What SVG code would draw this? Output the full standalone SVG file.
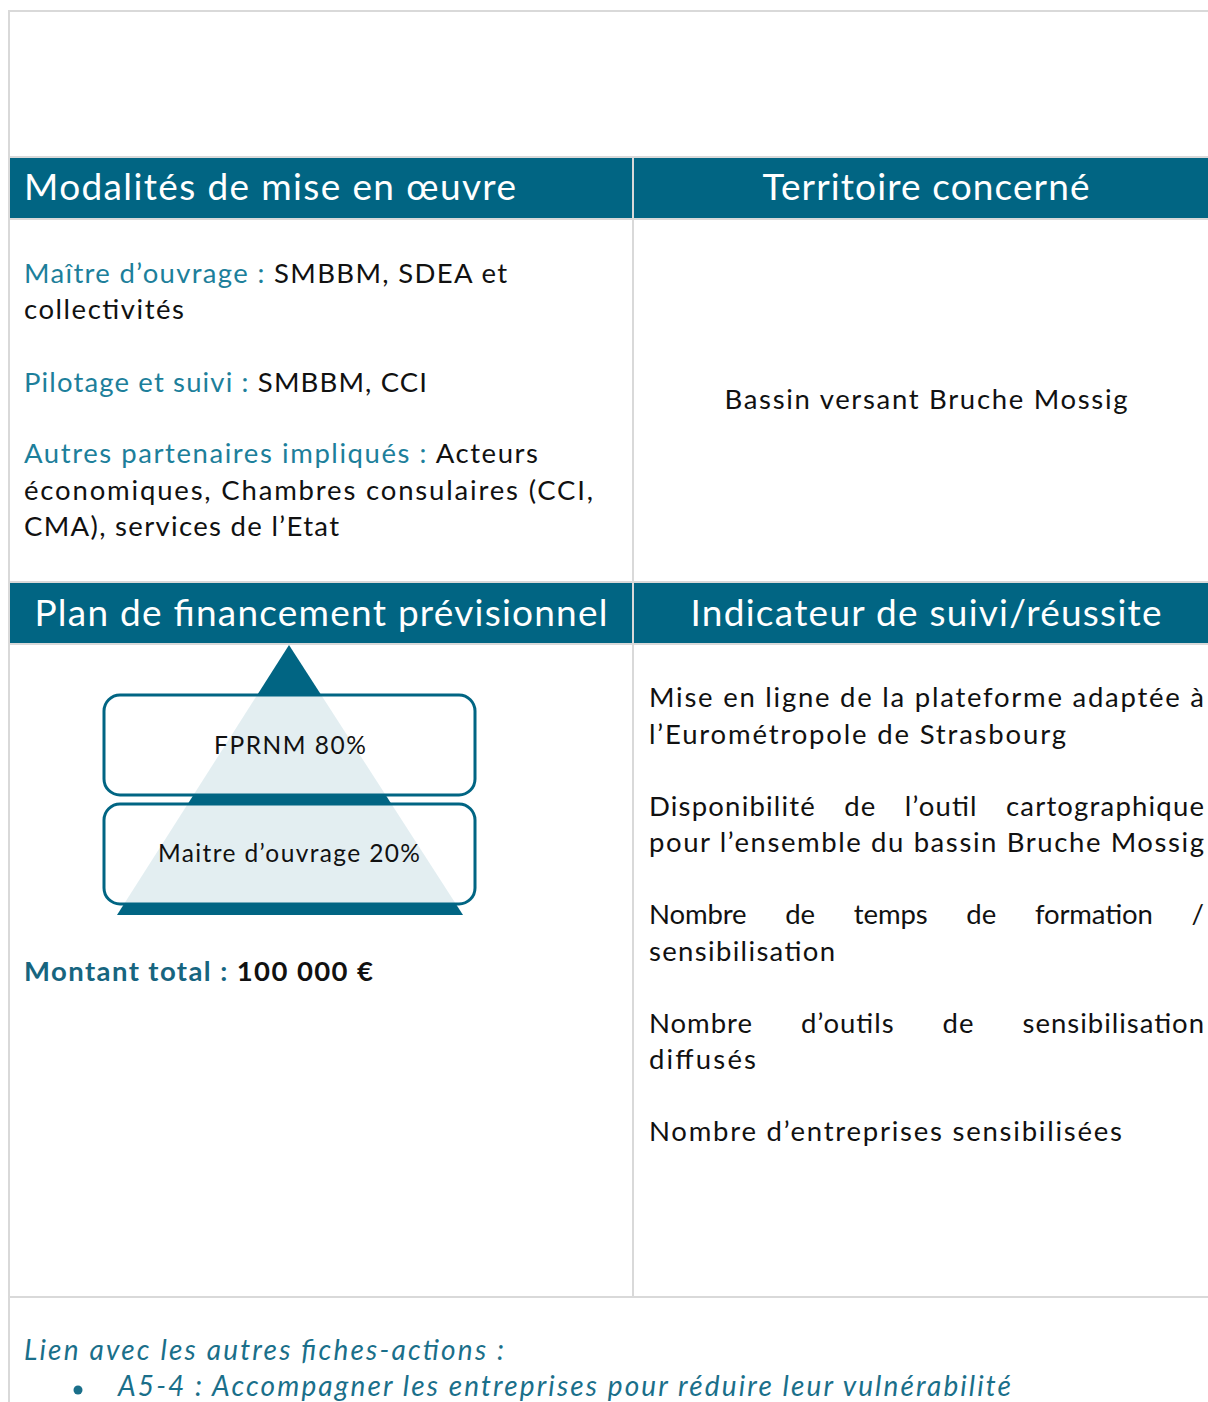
<svg xmlns="http://www.w3.org/2000/svg" width="1208" height="1402" viewBox="0 0 1208 1402">
<style>
.grid{stroke:#d9d9d9;stroke-width:2;fill:none}
.hdr{fill:#016583}
.ht{font-family:Lato,"Open Sans",sans-serif;font-size:37px;fill:#ffffff}
.bt{font-family:Lato,"Open Sans",sans-serif;font-size:27.5px;fill:#111111}
.lbl{fill:#1d7f9b}
.box{fill:#ffffff;fill-opacity:0.89;stroke:#016583;stroke-width:3}
.pt{font-family:Lato,"Open Sans",sans-serif;font-size:24.5px;fill:#111111}
.it{font-family:Lato,"Open Sans",sans-serif;font-size:28px;font-style:italic;fill:#1a6f8a}
</style>
<rect width="1208" height="1402" fill="#ffffff"/>
<g id="table">
<rect class="hdr" x="10" y="158" width="1198" height="60"/>
<rect class="hdr" x="10" y="583" width="1198" height="60"/>
<line class="grid" x1="9" y1="11" x2="1208" y2="11"/>
<line class="grid" x1="9" y1="10" x2="9" y2="1402"/>
<line class="grid" x1="9" y1="157" x2="1208" y2="157"/>
<line class="grid" x1="9" y1="219" x2="1208" y2="219"/>
<line class="grid" x1="9" y1="582" x2="1208" y2="582"/>
<line class="grid" x1="9" y1="644" x2="1208" y2="644"/>
<line class="grid" x1="9" y1="1297" x2="1208" y2="1297"/>
<line class="grid" x1="633" y1="157" x2="633" y2="1297"/>
</g>
<g id="header-modalites"><text class="ht" x="24" y="200" textLength="492">Modalités de mise en œuvre</text></g>
<g id="header-territoire"><text class="ht" x="926" y="200" text-anchor="middle" textLength="327">Territoire concerné</text></g>
<g id="header-plan"><text class="ht" x="321" y="626" text-anchor="middle" textLength="573">Plan de financement prévisionnel</text></g>
<g id="header-indicateur"><text class="ht" x="926" y="626" text-anchor="middle" textLength="471">Indicateur de suivi/réussite</text></g>
<g id="modalites">
<text class="bt" x="24" y="283" textLength="483"><tspan class="lbl">Maître d’ouvrage : </tspan>SMBBM, SDEA et</text>
<text class="bt" x="24" y="319" textLength="160">collectivités</text>
<text class="bt" x="24" y="392" textLength="403"><tspan class="lbl">Pilotage et suivi : </tspan>SMBBM, CCI</text>
<text class="bt" x="24" y="463" textLength="514"><tspan class="lbl">Autres partenaires impliqués : </tspan>Acteurs</text>
<text class="bt" x="24" y="500" textLength="569">économiques, Chambres consulaires (CCI,</text>
<text class="bt" x="24" y="536" textLength="315">CMA), services de l’Etat</text>
</g>
<g id="territoire"><text class="bt" x="926" y="409" text-anchor="middle" textLength="403">Bassin versant Bruche Mossig</text></g>
<g id="pyramide">
<polygon points="289,645 463,915 117,915" fill="#016583"/>
<rect class="box" x="104" y="695" width="371" height="100" rx="16"/>
<rect class="box" x="104" y="804" width="371" height="100" rx="16"/>
<text class="pt" x="290" y="754" text-anchor="middle" textLength="152">FPRNM 80%</text>
<text class="pt" x="289" y="862" text-anchor="middle" textLength="262">Maitre d’ouvrage 20%</text>
</g>
<g id="montant"><text class="bt" x="24" y="981" font-weight="bold" textLength="349"><tspan fill="#17657f">Montant total : </tspan>100 000 €</text></g>
<g id="indicateurs">
<text class="bt" x="649" y="707" textLength="555">Mise en ligne de la plateforme adaptée à</text>
<text class="bt" x="649" y="744" textLength="417">l’Eurométropole de Strasbourg</text>
<text class="bt" x="649" y="816" textLength="555" word-spacing="20">Disponibilité de l’outil cartographique</text>
<text class="bt" x="649" y="852" textLength="555">pour l’ensemble du bassin Bruche Mossig</text>
<text class="bt" x="649" y="924" textLength="555" word-spacing="32">Nombre de temps de formation /</text>
<text class="bt" x="649" y="961" textLength="186">sensibilisation</text>
<text class="bt" x="649" y="1033" textLength="555" word-spacing="40">Nombre d’outils de sensibilisation</text>
<text class="bt" x="649" y="1069" textLength="107">diffusés</text>
<text class="bt" x="649" y="1141" textLength="473">Nombre d’entreprises sensibilisées</text>
</g>
<g id="liens">
<text class="it" x="24" y="1360" textLength="480">Lien avec les autres fiches-actions :</text>
<circle cx="78" cy="1390" r="4.5" fill="#1a6f8a"/>
<text class="it" x="118" y="1396" textLength="893">A5-4 : Accompagner les entreprises pour réduire leur vulnérabilité</text>
</g>
</svg>
